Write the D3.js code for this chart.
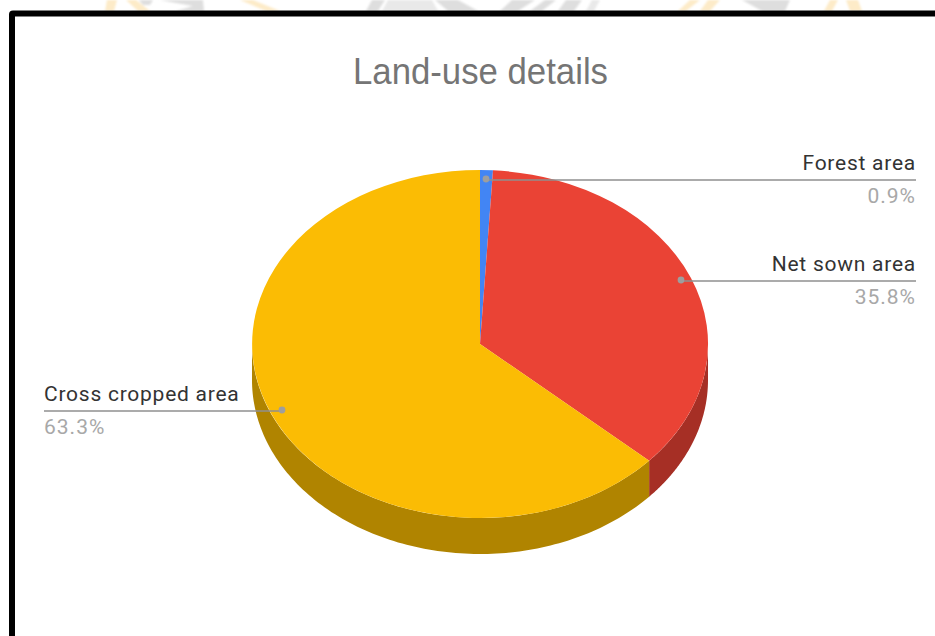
<!DOCTYPE html>
<html>
<head>
<meta charset="utf-8">
<script src="https://cdn.jsdelivr.net/npm/d3@7"></script>
<style>
html,body{margin:0;padding:0;background:#fff;overflow:hidden}
svg{display:block}
text{font-family:Roboto,Arial,sans-serif}
</style>
</head>
<body>
<svg id="chart" width="935" height="636"></svg>
<script>
// Land-use shares, in percent
const categories = ["Forest area", "Net sown area", "Cross cropped area"];
const shares = [0.9, 35.8, 63.3];
const topColors = ["#4285f4", "#ea4335", "#fbbc04"];
const wallColors = ["#2e5daa", "#a62f25", "#b08400"];
const chartTitle = "Land-use details";

const svg = d3.select("#chart");

// Page background and the emblem fragments showing above the frame
svg.append("rect").attr("width", 935).attr("height", 636).attr("fill", "#fff");
svg.append("defs").append("filter").attr("id", "soft")
  .append("feGaussianBlur").attr("stdDeviation", 1);
const emblemOrange = "#fdebc8", emblemGrey = "#dedede", emblemPale = "#e9e9e9";
const emblem = [
  ["M107,0L117,0L114,11L105,11Z", emblemOrange],
  ["M126,0L136,0L150,11L138,11Z", emblemOrange],
  ["M139,0L153,0L150,5L143,5Z", emblemGrey],
  ["M160,0L203,0L204,11L176,11L193,6L176,3Z", emblemGrey],
  ["M240,0L253,0L280,11L266,11Z", emblemOrange],
  ["M372,0L385,0L378,11L366,11Z", emblemGrey],
  ["M388,0L432,0L438,11L382,11Z", emblemPale],
  ["M435,0L458,0L478,11L448,11Z", emblemGrey],
  ["M512,0L535,0L518,11L500,11Z", emblemGrey],
  ["M545,0L556,0L542,11L530,11Z", emblemGrey],
  ["M566,0L582,0L574,11L558,11Z", emblemGrey],
  ["M592,0L600,0L594,11L586,11Z", emblemPale],
  ["M690,0L700,0L686,11L678,11Z", emblemOrange],
  ["M708,0L720,0L710,11L700,11Z", emblemOrange],
  ["M742,0L790,0L785,11L762,11Z", emblemGrey],
  ["M830,0L838,0L832,11L824,11Z", emblemOrange],
  ["M846,0L858,0L862,11L850,11Z", emblemOrange]
];
svg.append("g").attr("filter", "url(#soft)")
  .selectAll("path").data(emblem).join("path")
  .attr("d", d => d[0]).attr("fill", d => d[1]);

// Frame around the chart
svg.append("rect").attr("x", 9).attr("y", 10.5).attr("width", 960).attr("height", 660)
  .attr("rx", 4).attr("fill", "#000");
svg.append("rect").attr("x", 15).attr("y", 16.5).attr("width", 920).attr("height", 620)
  .attr("fill", "#fff");

svg.append("text").attr("x", 353).attr("y", 84)
  .style("font-family", "'Liberation Sans',Arial,sans-serif")
  .attr("font-size", 37).attr("textLength", 255).attr("lengthAdjust", "spacingAndGlyphs")
  .attr("fill", "#757575").text(chartTitle);

// Tilted disc geometry
const cx = 480, cy = 344, rx = 228, ry = 174, depth = 36;
const pie = d3.pie().sort(null).value(d => d.value);
const slices = pie(categories.map((name, i) => ({name, value: shares[i], i})));
const rim = a => [cx + rx * Math.sin(a), cy - ry * Math.cos(a)];

// Side wall: only the part of each slice that faces the viewer
const wallLine = d3.line();
slices.forEach(s => {
  const a0 = Math.max(s.startAngle, Math.PI / 2);
  const a1 = Math.min(s.endAngle, Math.PI * 3 / 2);
  if (a1 <= a0) return;
  const steps = d3.range(0, 121).map(k => a0 + (a1 - a0) * k / 120);
  const upper = steps.map(rim);
  const lower = steps.slice().reverse().map(a => { const p = rim(a); return [p[0], p[1] + depth]; });
  svg.append("path").attr("d", wallLine(upper.concat(lower)) + "Z")
    .attr("fill", wallColors[s.data.i]);
});

// Top face: unit-circle arcs stretched into an ellipse
const arc = d3.arc().innerRadius(0).outerRadius(1);
svg.append("g").attr("transform", `translate(${cx},${cy}) scale(${rx},${ry})`)
  .selectAll("path").data(slices).join("path")
  .attr("d", arc).attr("fill", d => topColors[d.data.i]);

// Callouts: leader position on each slice, label block at the line's outer end
const callouts = [
  {i: 0, px: 486, py: 179, x0: 916, anchor: "end"},
  {i: 1, px: 681, py: 280, x0: 916, anchor: "end"},
  {i: 2, px: 282, py: 410, x0: 44, anchor: "start"}
];
callouts.forEach(c => {
  svg.append("line").attr("x1", c.px).attr("x2", c.x0).attr("y1", c.py + 1).attr("y2", c.py + 1)
    .attr("stroke", "#8f8f8f").attr("stroke-width", 1.6);
  svg.append("circle").attr("cx", c.px).attr("cy", c.py).attr("r", 3.4).attr("fill", "#9e9e9e");
  svg.append("text").attr("x", c.x0).attr("y", c.py - 9).attr("text-anchor", c.anchor)
    .attr("font-size", 21).attr("letter-spacing", 0.75).attr("fill", "#333").text(categories[c.i]);
  svg.append("text").attr("x", c.x0).attr("y", c.py + 24).attr("text-anchor", c.anchor)
    .attr("font-size", 21).attr("letter-spacing", 1).attr("fill", "#a8a8a8").text(shares[c.i].toFixed(1) + "%");
});
</script>
</body>
</html>
